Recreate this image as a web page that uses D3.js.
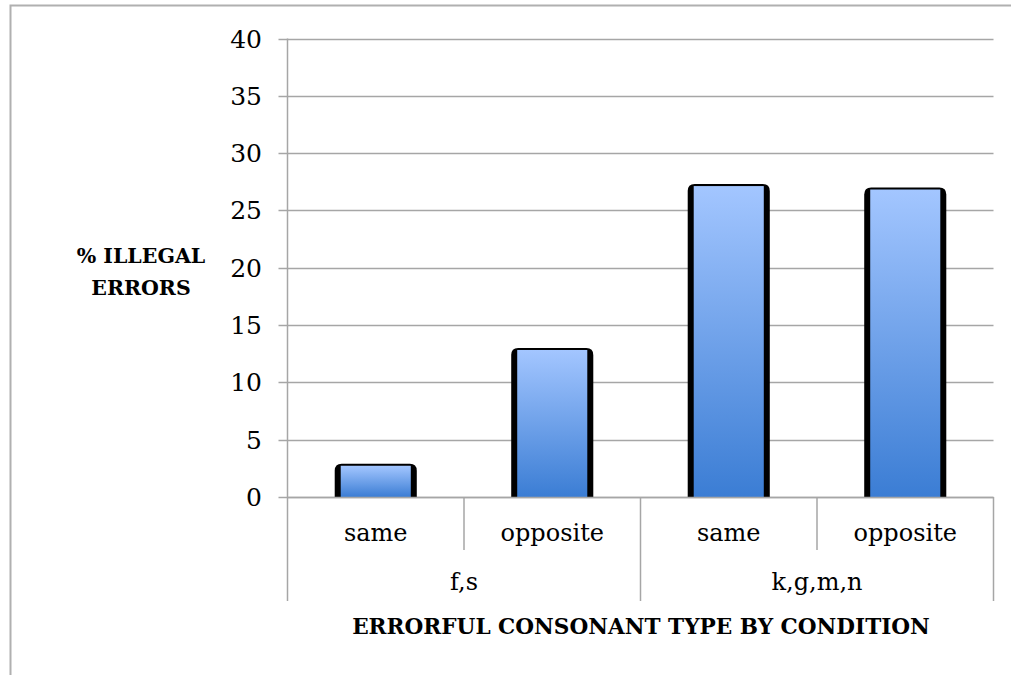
<!DOCTYPE html>
<html><head><meta charset="utf-8">
<script src="https://cdn.jsdelivr.net/npm/d3@7"></script>
<style>html,body{margin:0;padding:0;background:#fff;}svg{display:block;}</style>
</head><body>
<svg id="chart" width="1011" height="675"></svg>
<script>
const conditions = ["same", "opposite", "same", "opposite"];
const groups = ["f,s", "k,g,m,n"];
const values = [2.9, 13.0, 27.3, 27.0];
const yTicks = [0, 5, 10, 15, 20, 25, 30, 35, 40];
const yTitle = ["% ILLEGAL", "ERRORS"];
const xTitle = "ERRORFUL CONSONANT TYPE BY CONDITION";

const svg = d3.select("#chart");
const font = "'DejaVu Serif', serif";
const L = 287.5, R = 993.5, T = 38.5, B = 497;
const grid = "#a6a6a6";

// outer frame
svg.append("rect").attr("x", 10.5).attr("y", 5.5).attr("width", 1100).attr("height", 1000)
  .attr("fill", "none").attr("stroke", "#b0b0b0").attr("stroke-width", 2);

const y = d3.scaleLinear().domain([0, 40]).range([B, T]);
const x = d3.scaleBand().domain(d3.range(conditions.length)).range([L, R]).padding(0);
const xg = d3.scaleBand().domain(d3.range(groups.length)).range([L, R]).padding(0);

// gridlines
svg.append("g").selectAll("line").data(yTicks).join("line")
  .attr("x1", L - 9).attr("x2", R).attr("y1", d => Math.round(y(d)) + 0.5).attr("y2", d => Math.round(y(d)) + 0.5)
  .attr("stroke", grid).attr("stroke-width", 1.5);
// y axis line
svg.append("line").attr("x1", L).attr("x2", L).attr("y1", T).attr("y2", B)
  .attr("stroke", grid).attr("stroke-width", 1.5);
// tick labels
svg.append("g").selectAll("text").data(yTicks).join("text")
  .attr("x", 262).attr("y", d => y(d) + 9).attr("text-anchor", "end")
  .attr("font-family", font).attr("font-size", 25).attr("fill", "#000").text(d => d);

// bars
const defs = svg.append("defs");
const grad = defs.append("linearGradient").attr("id", "bg").attr("x1", 0).attr("x2", 0).attr("y1", 0).attr("y2", 1);
grad.append("stop").attr("offset", "0%").attr("stop-color", "#a3c6ff");
grad.append("stop").attr("offset", "100%").attr("stop-color", "#3b7dd4");

const bw = x.bandwidth() * 0.465;
const r = 7;
function topRounded(x0, y0, w, h, rr) {
  return `M${x0},${y0 + h} L${x0},${y0 + rr} Q${x0},${y0} ${x0 + rr},${y0} L${x0 + w - rr},${y0} Q${x0 + w},${y0} ${x0 + w},${y0 + rr} L${x0 + w},${y0 + h} Z`;
}
const bars = svg.append("g").selectAll("g").data(values).join("g");
bars.append("path").attr("fill", "#000")
  .attr("d", (d, i) => {
    const cx = x(i) + x.bandwidth() / 2;
    return topRounded(cx - bw / 2, y(d), bw, B - y(d) + 1, r);
  });
bars.append("rect").attr("fill", "url(#bg)")
  .attr("x", (d, i) => x(i) + x.bandwidth() / 2 - bw / 2 + 6)
  .attr("width", bw - 12)
  .attr("y", d => y(d) + 2)
  .attr("height", d => B - y(d) - 2);
svg.append("line").attr("x1", L).attr("x2", R).attr("y1", B + 0.5).attr("y2", B + 0.5)
  .attr("stroke", grid).attr("stroke-width", 1.5);

// category separators
const sep = [];
conditions.forEach((c, i) => sep.push({ x: x(i), long: i % 2 === 0 }));
sep.push({ x: R, long: true });
svg.append("g").selectAll("line").data(sep).join("line")
  .attr("x1", d => d.x).attr("x2", d => d.x).attr("y1", B).attr("y2", d => d.long ? 601 : 550)
  .attr("stroke", grid).attr("stroke-width", 1.5);

// category labels
svg.append("g").selectAll("text").data(conditions).join("text")
  .attr("x", (d, i) => x(i) + x.bandwidth() / 2).attr("y", 541).attr("text-anchor", "middle")
  .attr("font-family", font).attr("font-size", 24).text(d => d);
svg.append("g").selectAll("text").data(groups).join("text")
  .attr("x", (d, i) => xg(i) + xg.bandwidth() / 2).attr("y", 590).attr("text-anchor", "middle")
  .attr("font-family", font).attr("font-size", 24).text(d => d);

// titles
svg.append("text").attr("x", 641).attr("y", 634).attr("text-anchor", "middle")
  .attr("font-family", font).attr("font-weight", "bold").attr("font-size", 21.6).text(xTitle);
svg.append("g").selectAll("text").data(yTitle).join("text")
  .attr("x", 141).attr("y", (d, i) => 263 + i * 32).attr("text-anchor", "middle")
  .attr("font-family", font).attr("font-weight", "bold").attr("font-size", 20.5).text(d => d);
</script>
</body></html>
